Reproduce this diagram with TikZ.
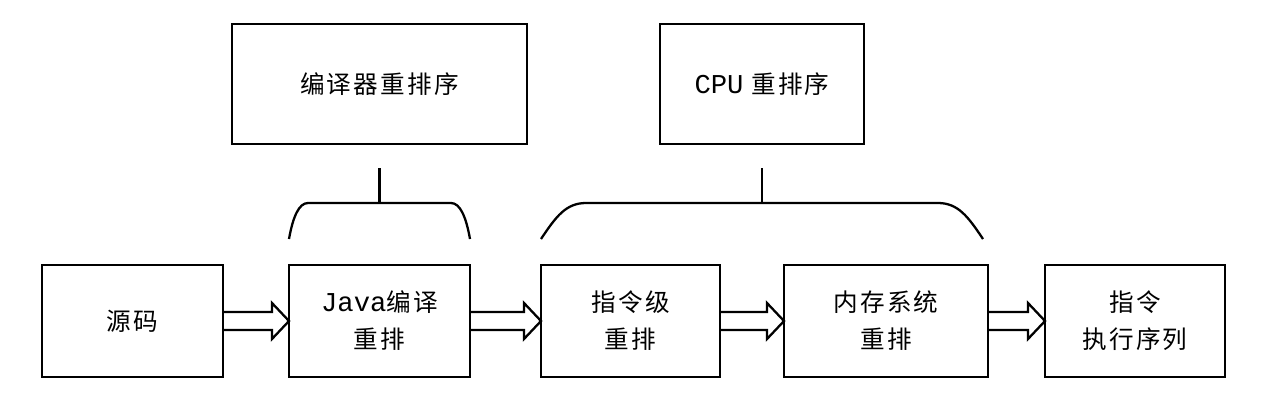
\documentclass[tikz,border=0pt]{standalone}
\usepackage{fontspec}
\setmainfont[LetterSpace=9]{Noto Sans CJK SC}
\setmonofont{Liberation Mono}
\usepackage{tikz}
\usetikzlibrary{calc,positioning}
\tikzstyle{stage} = [rectangle, minimum width=3.62cm, minimum height=2.24cm, text centered, align=center, draw=black, line width=1.3pt, outer sep=0pt, font=\fontsize{14}{21}\selectfont]
\tikzstyle{group} = [rectangle, minimum height=2.4cm, text centered, draw=black, line width=1.3pt, outer sep=0pt, font=\fontsize{14}{21}\selectfont]
\tikzstyle{fat} = [line width=1.3pt, line join=miter]
\tikzstyle{brace} = [line width=1.3pt]
\newcommand{\lat}[1]{{\ttfamily\fontsize{15.5}{21}\selectfont #1}}

\begin{document}
\begin{tikzpicture}
\useasboundingbox (0,0) rectangle (25.4,8.04);
\node (src) [stage] at (2.65,1.62) {源码};
\node (javac) [stage,right=1.32cm of src] {\lat{Java}编译\\重排};
\node (instr) [stage,right=1.42cm of javac,minimum width=3.58cm] {指令级\\重排};
\node (mem) [stage,right=1.28cm of instr,minimum width=4.08cm] {内存系统\\重排};
\node (exec) [stage,right=1.14cm of mem,minimum width=3.6cm] {指令\\执行序列};
% groups above
\node (comp) [group,minimum width=5.9cm,above=2.42cm of javac] {编译器重排序};
\coordinate (cpumid) at ($(instr.north west)!0.5!(mem.north east)+(-0.05,0)$);
\node (cpu) [group,minimum width=4.08cm,above=2.42cm of cpumid] {\lat{CPU} 重排序};
% fat arrows
\foreach \a/\b in {src/javac,javac/instr,instr/mem,mem/exec}
  \draw [fat] ($(\a.east)+(0,0.18)$) -- ($(\b.west)+(-0.34,0.18)$) -- ($(\b.west)+(-0.34,0.36)$)
    -- (\b.west) -- ($(\b.west)+(-0.34,-0.36)$) -- ($(\b.west)+(-0.34,-0.18)$) -- ($(\a.east)+(0,-0.18)$);
% braces
\coordinate (jtop) at ($(javac.north)+(0,1.24)$);
\coordinate (jstem) at ($(comp.south)+(0,-0.48)$);
\draw [brace] ($(javac.north west)+(0,0.52)$) .. controls +(0.08,0.45) and +(-0.18,0) .. ++(0.38,0.72)
  -- ($(javac.north east)+(-0.38,1.24)$) .. controls +(0.18,0) and +(-0.08,0.45) .. ($(javac.north east)+(0,0.52)$);
\draw [brace] (jtop) -- (jstem);
\coordinate (ctop) at ($(cpumid)+(0,1.24)$);
\coordinate (cstem) at ($(cpu.south)+(0,-0.48)$);
\draw [brace] ($(instr.north west)+(0,0.52)$) .. controls +(0.3,0.45) and +(-0.4,0) .. ++(0.9,0.72)
  -- ($(mem.north east)+(-1.0,1.24)$) .. controls +(0.4,0) and +(-0.3,0.45) .. ($(mem.north east)+(-0.1,0.52)$);
\draw [brace] (ctop) -- (cstem);
\end{tikzpicture}
\end{document}
